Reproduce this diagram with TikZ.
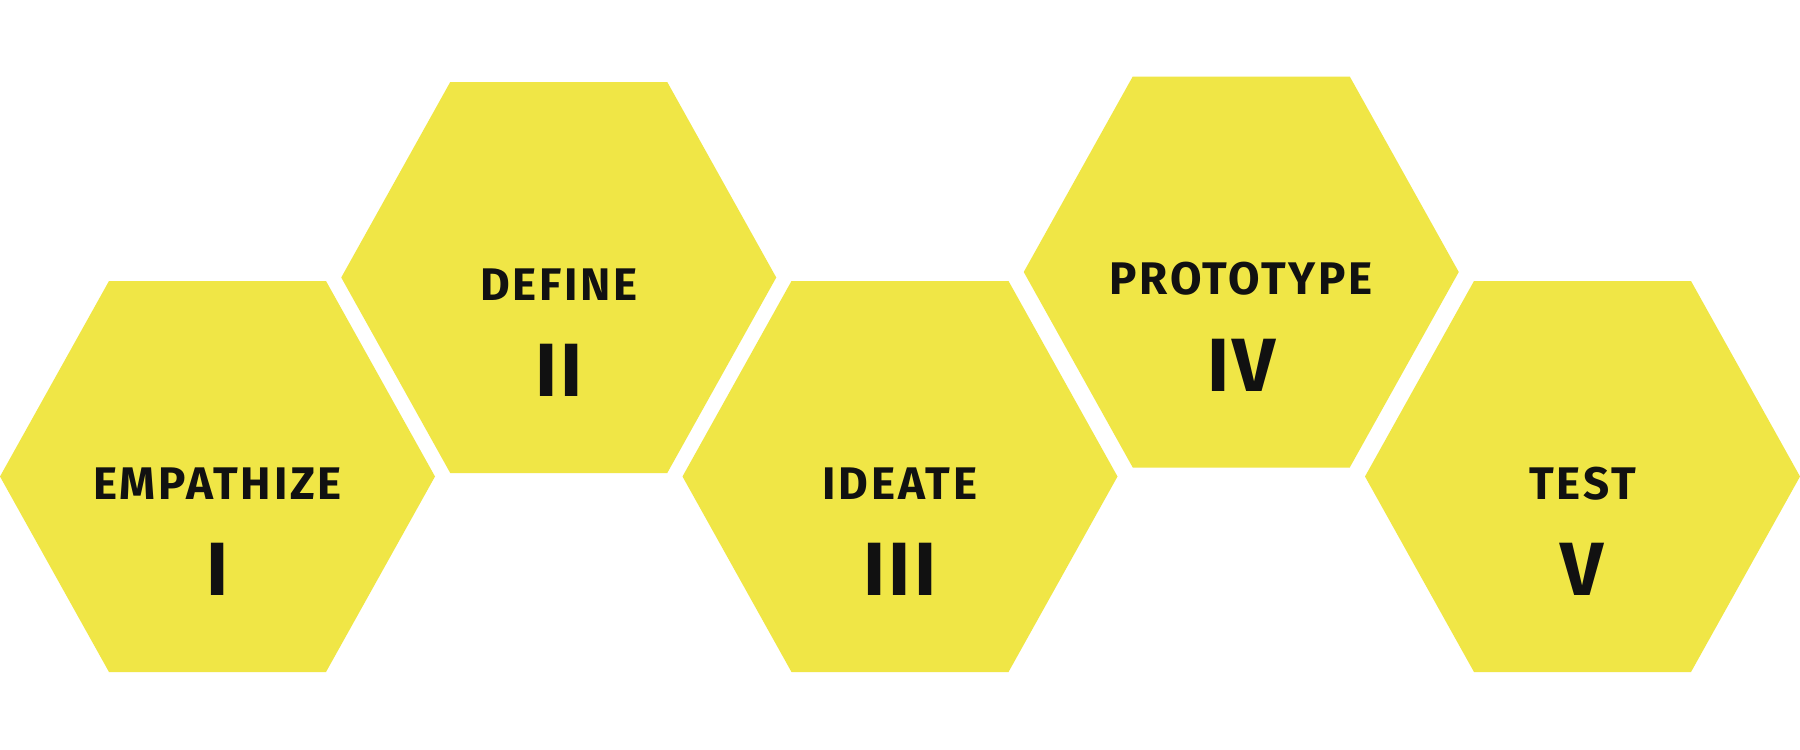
\documentclass[tikz,border=0pt]{standalone}
\usepackage{fontspec}
\setmainfont{Fira Sans}
\newfontfamily\labfont[LetterSpace=6]{Fira Sans}
\newfontfamily\numfont[LetterSpace=4]{Fira Sans}
\definecolor{hexyellow}{RGB}{240,230,70}
\definecolor{inkblack}{RGB}{17,17,17}
\tikzset{
  hexfill/.style={fill=hexyellow},
  labeltext/.style={anchor=base, inner sep=0pt, text=inkblack,
    font=\labfont\bfseries\fontsize{45.7}{50}\selectfont},
  numtext/.style={anchor=base, inner sep=0pt, text=inkblack,
    font=\numfont\bfseries\fontsize{75.5}{80}\selectfont}
}
\newcommand\dthex[5]{%
  \fill[hexfill] (#2-217.5,#3) -- (#2-108.5,#3-195.5) -- (#2+108.5,#3-195.5)
    -- (#2+217.5,#3) -- (#2+108.5,#3+195.5) -- (#2-108.5,#3+195.5) -- cycle;
  \node[labeltext] (#1label) at (#2,#3+22.5) {#4};
  \node[numtext] (#1num) at (#2,#3+119) {#5};
}
\begin{document}
\begin{tikzpicture}[x=1pt,y=-1pt]
\useasboundingbox (0,0) rectangle (1800,750);
\fill[white] (0,0) rectangle (1800,750);
\dthex{emp}{217.5}{476.5}{EMPATHIZE}{I}
\dthex{def}{558.75}{277.5}{DEFINE}{II}
\dthex{ide}{900}{476.5}{IDEATE}{III}
\dthex{pro}{1241.25}{272}{PROTOTYPE}{IV}
\dthex{tst}{1582.5}{476.5}{TEST}{V}
\end{tikzpicture}
\end{document}
